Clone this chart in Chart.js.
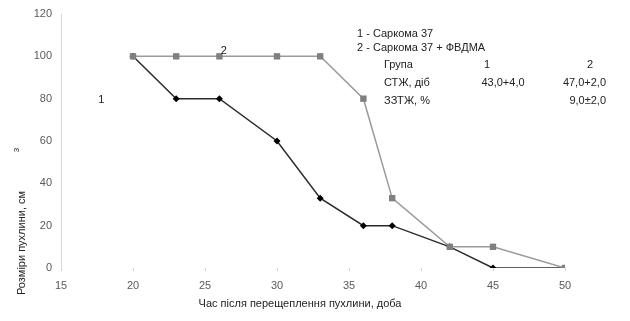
<!DOCTYPE html>
<html>
<head>
<meta charset="utf-8">
<script src="https://cdn.jsdelivr.net/npm/chart.js@4/dist/chart.umd.min.js"></script>
<style>
  html, body { margin: 0; padding: 0; background: #fff; }
  #wrap { width: 630px; height: 321px; position: relative; }
</style>
</head>
<body>
<div id="wrap"><canvas id="chart"></canvas></div>
<script>
// days after transplantation
const days = [20, 23, 26, 30, 33, 36, 38, 42, 45, 50];
// tumour size, % of max
const sarcoma = [100, 80, 80, 60, 33, 20, 20, 10, 0, 0];
const sarcomaFvdma = [100, 100, 100, 100, 100, 80, 33, 10, 10, 0];
const yTicks = [0, 20, 40, 60, 80, 100, 120];
const xTicks = [15, 20, 25, 30, 35, 40, 45, 50];

const legendLines = ['1 - Саркома 37', '2 - Саркома 37 + ФВДМА'];
const tableRows = [
  ['Група', '1', '2'],
  ['СТЖ, діб', '43,0+4,0', '47,0+2,0'],
  ['ЗЗТЖ, %', '', '9,0±2,0']
];

const FONT = '11px "Liberation Sans", Arial, sans-serif';
const TEXT = '#222';

const toPoints = ys => days.map((d, i) => ({ x: d, y: ys[i] }));

// text that sits on the chart: series labels, legend, table, axis titles
const notes = {
  id: 'notes',
  afterDraw(chart) {
    const { ctx, scales: { x, y } } = chart;
    ctx.save();
    ctx.font = FONT;
    ctx.fillStyle = TEXT;
    ctx.textBaseline = 'middle';

    ctx.textAlign = 'center';
    ctx.fillText('1', x.getPixelForValue(17.8), y.getPixelForValue(79.5));
    ctx.fillText('2', x.getPixelForValue(26.3), y.getPixelForValue(102.5));

    ctx.textAlign = 'left';
    ctx.fillText(legendLines[0], 357, 34);
    ctx.fillText(legendLines[1], 357, 48);

    const rowY = [65, 83, 101];
    tableRows.forEach((row, i) => {
      ctx.textAlign = 'left';
      ctx.fillText(row[0], 384, rowY[i]);
      ctx.textAlign = 'center';
      if (i === 0) {
        ctx.fillText(row[1], 487, rowY[i]);
        ctx.fillText(row[2], 590, rowY[i]);
      } else {
        ctx.fillText(row[1], 503, rowY[i]);
        ctx.textAlign = 'right';
        ctx.fillText(row[2], 606, rowY[i]);
      }
    });

    ctx.textAlign = 'center';
    ctx.fillText('Час після перещеплення пухлини, доба', 300, 304);

    ctx.save();
    ctx.translate(22, 243);
    ctx.rotate(-Math.PI / 2);
    ctx.fillText('Розміри пухлини, см', 0, 0);
    ctx.restore();
    ctx.save();
    ctx.translate(17, 150);
    ctx.rotate(-Math.PI / 2);
    ctx.font = '8px "Liberation Sans", Arial, sans-serif';
    ctx.fillText('3', 0, 0);
    ctx.restore();

    ctx.restore();
  }
};

new Chart(document.getElementById('chart'), {
  type: 'line',
  data: {
    datasets: [
      {
        label: '2',
        data: toPoints(sarcomaFvdma),
        borderColor: '#9a9a9a',
        borderWidth: 1.5,
        pointStyle: 'rect',
        pointRadius: 4.5,
        pointBackgroundColor: '#808080',
        pointBorderColor: '#808080',
        pointBorderWidth: 0,
        tension: 0
      },
      {
        label: '1',
        data: toPoints(sarcoma),
        borderColor: '#2a2a2a',
        borderWidth: 1.5,
        pointStyle: 'rectRot',
        pointRadius: 3.5,
        pointBackgroundColor: '#000',
        pointBorderColor: '#000',
        pointBorderWidth: 0,
        tension: 0
      }
    ]
  },
  options: {
    responsive: true,
    maintainAspectRatio: false,
    animation: false,
    layout: { padding: { left: 0, right: 65, top: 14, bottom: 0 } },
    plugins: { legend: { display: false }, tooltip: { enabled: false } },
    scales: {
      x: {
        type: 'linear',
        min: 15,
        max: 50,
        afterBuildTicks: s => { s.ticks = xTicks.map(v => ({ value: v })); },
        afterFit: s => { s.height = 53; },
        border: { display: false },
        grid: { display: true, drawOnChartArea: false, tickLength: 3, color: '#d0d0d0' },
        ticks: { color: '#595959', font: { family: 'Liberation Sans', size: 11 }, padding: 8, maxRotation: 0 }
      },
      y: {
        min: 0,
        max: 120,
        afterBuildTicks: s => { s.ticks = yTicks.map(v => ({ value: v })); },
        afterFit: s => { s.width = 61; },
        border: { display: true, color: '#d9d9d9' },
        grid: { display: false },
        ticks: { color: '#595959', font: { family: 'Liberation Sans', size: 11 }, padding: 1 }
      }
    }
  },
  plugins: [notes]
});
</script>
</body>
</html>
